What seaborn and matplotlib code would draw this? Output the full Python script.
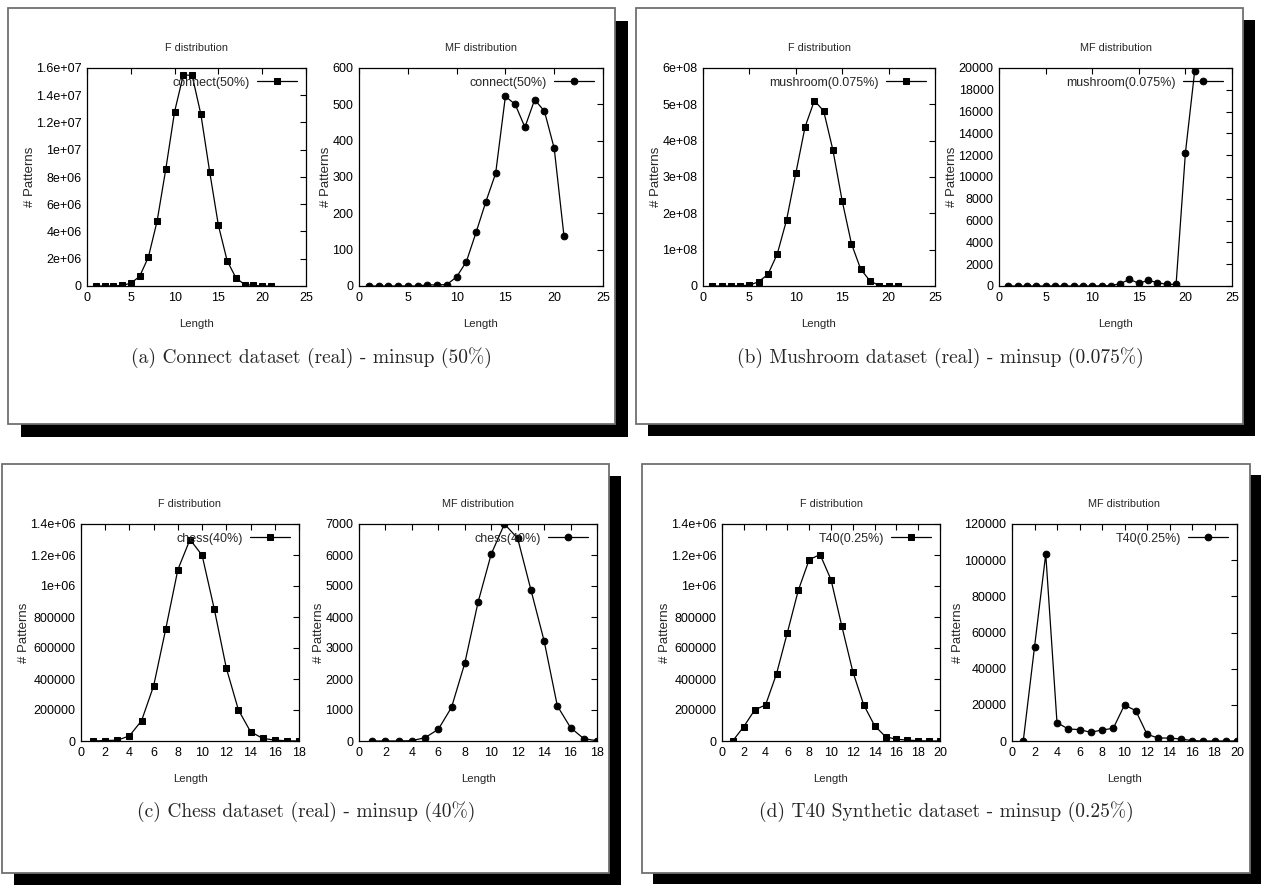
import matplotlib
matplotlib.use("Agg")
import matplotlib.pyplot as plt
from matplotlib.patches import Rectangle
from matplotlib.ticker import FuncFormatter, MultipleLocator
from matplotlib import font_manager
import seaborn as sns

# ---------------- data ----------------
connect_len = list(range(1, 22))
connect_f = [0, 0, 0, 5e4, 2e5, 7e5, 2.1e6, 4.75e6, 8.6e6, 1.28e7, 1.55e7, 1.545e7,
             1.26e7, 8.4e6, 4.45e6, 1.85e6, 6e5, 1e5, 5e4, 0, 0]
connect_mf = [0, 0, 0, 0, 0, 0, 3, 3, 4, 25, 67, 148, 232, 310, 522, 500, 437, 513,
              481, 379, 138]

mush_len = list(range(1, 22))
mush_f = [0, 0, 0, 1e6, 2e6, 1.2e7, 3.2e7, 8.8e7, 1.81e8, 3.1e8, 4.38e8, 5.1e8,
          4.82e8, 3.74e8, 2.34e8, 1.16e8, 4.6e7, 1.4e7, 1e6, 1e6, 0]
mush_mf = [0, 0, 0, 0, 0, 0, 0, 0, 0, 0, 20, 30, 210, 610, 250, 520, 310, 150,
           150, 12200, 19750]

chess_len = list(range(1, 19))
chess_f = [0, 3000, 5000, 33000, 131000, 356000, 724000, 1106000, 1300000,
           1198000, 853000, 470000, 200000, 60000, 17000, 6000, 1000, 0]
chess_mf = [0, 0, 0, 10, 108, 377, 1088, 2509, 4469, 6030, 7000, 6537, 4878,
            3231, 1131, 431, 75, 10]

t40_len = list(range(1, 21))
t40_f = [2000, 93000, 200000, 233000, 433000, 700000, 972000, 1170000, 1203000,
         1041000, 739000, 448000, 233000, 99000, 28000, 11000, 6000, 2000, 0, 0]
t40_mf = [0, 51900, 103400, 10150, 6650, 6300, 4800, 6100, 7000, 19900, 16800,
          3700, 1650, 1650, 1100, 200, 0, 0, 0, 0]

legend_labels = ["connect(50%)", "mushroom(0.075%)", "chess(40%)", "T40(0.25%)"]
captions = ["(a) Connect dataset (real) - minsup (50%)",
            "(b) Mushroom dataset (real) - minsup (0.075%)",
            "(c) Chess dataset (real) - minsup (40%)",
            "(d) T40 Synthetic dataset - minsup (0.25%)"]

# ---------------- style ----------------
sns.set_style("white")
avail = {f.name for f in font_manager.fontManager.ttflist}
fam = [f for f in ["Liberation Sans Narrow", "Liberation Sans", "DejaVu Sans"] if f in avail]
plt.rcParams["font.family"] = fam

W, H = 1261, 888
fig = plt.figure(figsize=(W / 100, H / 100), dpi=100)
fig.patch.set_facecolor("white")


def fx(px):
    return px / W


def fy(py):
    return 1 - py / H


# framed boxes with black drop shadow
boxes = [(8, 8, 615, 424, 13), (636, 8, 1243, 424, 12),
         (2, 464, 609, 873, 12), (642, 464, 1250, 873, 11)]
for (x0, y0, x1, y1, off) in boxes:
    fig.patches.append(Rectangle((fx(x0 + off), fy(y1 + off)), fx(x1 - x0), (y1 - y0) / H,
                                 transform=fig.transFigure, facecolor="black",
                                 edgecolor="none", zorder=0))
    fig.patches.append(Rectangle((fx(x0), fy(y1)), fx(x1 - x0), (y1 - y0) / H,
                                 transform=fig.transFigure, facecolor="white",
                                 edgecolor="#707070", linewidth=1.3, zorder=1))


def fmt(v, pos):
    if abs(v) < 1e-9:
        return "0"
    return "%g" % v


def panel(rect, xs, ys, marker, label, xmax, xstep, ymax, ystep, title):
    l, t, r, b = rect
    ax = fig.add_axes([fx(l), fy(b), fx(r - l), (b - t) / H])
    ax.set_zorder(2)
    ms = 5.0 if marker == "s" else 4.8
    sns.lineplot(x=xs, y=ys, ax=ax, color="black", marker=marker, markersize=ms,
                 markeredgecolor="black", linewidth=0.9, label=label)
    ax.set_xlim(0, xmax)
    ax.set_ylim(0, ymax)
    ax.xaxis.set_major_locator(MultipleLocator(xstep))
    ax.yaxis.set_major_locator(MultipleLocator(ystep))
    ax.yaxis.set_major_formatter(FuncFormatter(fmt))
    ax.tick_params(direction="in", length=4, width=0.8, top=True, right=True,
                   labelsize=9, pad=4, colors="black")
    for s in ax.spines.values():
        s.set_color("black")
        s.set_linewidth(0.9)
    ax.set_title(title, fontsize=7.8, pad=12)
    ax.set_xlabel("Length", fontsize=8.2, labelpad=11)
    ax.set_ylabel("# Patterns", fontsize=9.5, labelpad=0)
    ax.legend(loc="upper right", frameon=False, markerfirst=False, handlelength=3.2,
              fontsize=9, borderaxespad=0.3, handletextpad=0.6)
    ax.set_facecolor("white")
    return ax


# (a) connect
panel((87, 68, 306, 286), connect_len, connect_f, "s", legend_labels[0], 25, 5, 1.6e7, 2e6, "F distribution")
panel((359, 68, 603, 286), connect_len, connect_mf, "o", legend_labels[0], 25, 5, 600, 100, "MF distribution")
# (b) mushroom
panel((703, 68, 935, 286), mush_len, mush_f, "s", legend_labels[1], 25, 5, 6e8, 1e8, "F distribution")
panel((999, 68, 1232, 286), mush_len, mush_mf, "o", legend_labels[1], 25, 5, 20000, 2000, "MF distribution")
# (c) chess
panel((81, 524, 299, 741), chess_len, chess_f, "s", legend_labels[2], 18, 2, 1.4e6, 2e5, "F distribution")
panel((359, 524, 597, 741), chess_len, chess_mf, "o", legend_labels[2], 18, 2, 7000, 1000, "MF distribution")
# (d) T40
panel((722, 524, 940, 741), t40_len, t40_f, "s", legend_labels[3], 20, 2, 1.4e6, 2e5, "F distribution")
panel((1012, 524, 1237, 741), t40_len, t40_mf, "o", legend_labels[3], 20, 2, 120000, 20000, "MF distribution")

# captions
cap_pos = [(311, 358), (940, 358), (306, 812), (946, 812)]
for (cx, cy), txt in zip(cap_pos, captions):
    fig.text(fx(cx), fy(cy), txt, ha="center", va="center", fontsize=14,
             family=["cmr10", "DejaVu Serif"], zorder=3)

fig.savefig("out.png", dpi=100, facecolor="white")
